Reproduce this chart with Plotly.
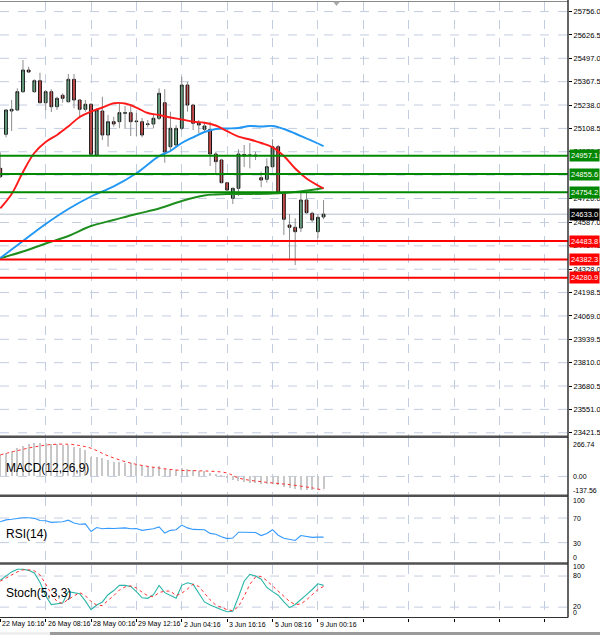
import plotly.graph_objects as go

# ---------------- data ----------------
open_ = [24887.3, 25075.8, 25204.9, 25210.5, 25311.9, 25432.2, 25311.9, 25372.9, 25250.9, 25311.9,
         25228.8, 25292.0, 25256.5, 25380.6, 25265.9, 25214.3, 25242.1, 24961.0, 25204.9, 25071.9,
         25145.6, 25145.6, 25192.2, 25195.5, 25145.6, 25145.6, 25130.1, 25132.9, 25164.5, 25250.9,
         25007.0, 25016.5, 25109.0, 25349.0, 25238.2, 25136.7, 25103.5, 25103.5, 24966.6, 24933.3,
         24807.5, 24721.0, 24776.5, 24955.5, 24958.3, 24961.0, 24835.2, 24826.3, 24896.2, 25007.0,
         24752.1, 24573.0, 24560.3, 24556.4, 24711.6, 24637.9, 24535.9, 24617.4]
high = [24975.0, 25215.0, 25265.9, 25330.8, 25487.6, 25450.5, 25380.6, 25417.2, 25321.3, 25325.2,
        25284.2, 25303.0, 25410.0, 25410.0, 25268.0, 25265.9, 25249.3, 25219.9, 25284.2, 25182.8,
        25173.3, 25249.3, 25232.6, 25232.6, 25193.8, 25166.1, 25155.0, 25182.8, 25330.8, 25325.2,
        25201.0, 25127.3, 25395.0, 25367.3, 25245.0, 25155.0, 25145.6, 25145.6, 24979.4, 24940.0,
        24812.0, 24780.0, 24992.6, 25016.5, 25027.6, 24979.4, 24868.5, 24942.7, 25048.0, 25016.5,
        24757.6, 24634.0, 24610.2, 24757.6, 24757.6, 24646.7, 24634.0, 24711.6]
low = [24833.5, 25059.1, 25094.1, 25205.0, 25305.0, 25417.2, 25306.4, 25247.6, 25210.5, 25199.4,
       25210.5, 25250.9, 25250.9, 25219.9, 25164.5, 25201.0, 24961.0, 24951.6, 25044.2, 25007.0,
       25118.0, 25109.0, 25105.2, 25066.4, 25066.4, 25059.1, 25114.6, 25109.0, 25155.0, 24918.4,
       24988.8, 25007.0, 25099.6, 25201.0, 25099.6, 25081.0, 25084.6, 24900.1, 24859.6, 24804.2,
       24761.5, 24689.4, 24733.8, 24894.5, 24887.3, 24933.3, 24782.0, 24807.5, 24892.8, 24744.9,
       24517.6, 24379.0, 24351.3, 24534.2, 24634.0, 24589.7, 24499.3, 24604.6]
close = [24840.8, 25210.5, 25214.3, 25311.9, 25432.2, 25421.1, 25372.9, 25250.9, 25311.9, 25228.8,
         25275.3, 25275.3, 25380.6, 25265.9, 25214.3, 25242.1, 24965.0, 25210.5, 25071.9, 25145.6,
         25132.9, 25195.5, 25195.5, 25145.6, 25148.4, 25071.9, 25132.9, 25164.5, 25303.0, 24977.7,
         25109.0, 25109.0, 25349.0, 25238.2, 25136.7, 25127.3, 25121.8, 24966.6, 24924.0, 24807.5,
         24767.1, 24776.5, 24966.6, 24963.8, 24961.0, 24956.5, 24822.5, 24896.2, 25007.0, 24752.1,
         24604.6, 24560.3, 24535.9, 24711.6, 24641.2, 24600.7, 24615.7, 24633.0]

red_ma_idx = [0, 2, 4, 6, 8, 10, 12, 14, 16, 18, 20, 22, 24, 26, 28, 30, 32, 34, 36, 38, 40, 42, 44,
              46, 48, 50, 52, 54, 56, 57]
red_ma = [24665.6, 24744.9, 24866.8, 24972.0, 25033.1, 25072.0, 25119.6, 25171.7, 25202.1, 25224.3,
          25247.6, 25246.5, 25224.3, 25193.8, 25182.8, 25168.9, 25157.8, 25145.6, 25140.1, 25124.5,
          25093.0, 25062.5, 25046.9, 25027.6, 25003.7, 24955.5, 24886.0, 24830.8, 24792.0, 24775.4]
blue_ma_idx = [0, 4, 8, 12, 16, 20, 24, 28, 30, 32, 34, 36, 38, 40, 42, 44, 46, 48, 50, 52, 54, 56, 57]
blue_ma = [24390.0, 24484.3, 24578.6, 24661.7, 24731.0, 24787.0, 24860.0, 24955.0, 24983.2, 25027.6,
           25059.2, 25088.5, 25105.2, 25108.0, 25110.7, 25121.8, 25119.0, 25121.8, 25105.2, 25080.2,
           25052.5, 25024.8, 25010.9]
green_ma_idx = [0, 4, 8, 12, 16, 20, 24, 28, 32, 36, 38, 40, 44, 48, 52, 56, 57]
green_ma = [24388.4, 24426.1, 24470.5, 24512.0, 24567.5, 24600.7, 24634.0, 24664.5, 24706.0, 24736.5,
            24742.1, 24744.9, 24744.9, 24747.6, 24756.0, 24772.6, 24778.1]

green_levels = [24957.1, 24855.6, 24754.2]
red_levels = [24483.8, 24382.3, 24280.9]
last_price = 24633.0

price_ticks = [25756.0, 25626.5, 25497.0, 25367.5, 25238.0, 25108.5, 24979.0, 24720.0,
               24587.0, 24457.5, 24328.0, 24198.5, 24069.0, 23939.5, 23810.0, 23680.5, 23551.0, 23421.5]
grid_prices = [25756.0, 25626.5, 25497.0, 25367.5, 25238.0, 25108.5, 24979.0, 24849.5, 24720.0,
               24587.0, 24457.5, 24328.0, 24198.5, 24069.0, 23939.5, 23810.0, 23680.5, 23551.0, 23421.5]

macd_hist = [171.4, 184.9, 205.4, 224.4, 242.5, 258.3, 263.9, 266.7, 263.9, 258.3,
             256.0, 250.4, 248.0, 237.0, 224.4, 211.0, 158.0, 158.0, 145.4, 132.0,
             118.5, 118.5, 110.6, 105.9, 92.4, 79.0, 74.3, 74.3, 79.0, 58.5,
             52.9, 47.4, 66.4, 58.5, 47.4, 39.5, 39.5, 26.9, 19.0, 5.5,
             -5.0, -25.0, -38.0, -45.0, -50.0, -52.0, -57.0, -62.0, -62.0, -72.0,
             -84.0, -92.0, -100.0, -105.0, -106.0, -110.0, -108.0, -104.0]
macd_sig_idx = [0, 3, 6, 9, 12, 14, 16, 19, 23, 28, 32, 35, 40, 42, 47, 51, 55, 57]
macd_sig = [171.4, 205.0, 235.0, 253.5, 256.0, 245.6, 224.4, 163.8, 105.9, 66.4, 47.4, 45.0, 26.9,
            -13.0, -47.4, -65.6, -91.6, -110.6]

rsi = [64, 67, 68, 69.5, 70.5, 70.5, 69.5, 66, 65.5, 63,
       63.5, 64, 66.5, 62, 60, 60.5, 48, 54.5, 52.5, 53.5,
       53, 54, 54, 52.5, 53, 50, 51, 52.5, 55.5, 45.5,
       50, 51, 58.5, 54, 51.5, 51, 51, 45, 43.5, 39.5,
       36.5, 37.5, 47, 47, 47, 46.5, 41.5, 45, 51, 42,
       37, 35.5, 33.5, 41.5, 39.5, 38.5, 39, 39]
stoch_main = [72, 80, 88, 93, 93, 91, 86, 68, 42, 25,
              26, 28, 50, 48, 46, 32, 15, 24, 30, 44,
              52, 62, 62, 60, 50, 38, 37, 44, 62, 48,
              42, 37, 62, 67, 64, 48, 30, 24, 19, 15,
              11, 12, 40, 70, 83, 80, 74, 58, 50, 43,
              30, 19, 25, 34, 44, 54, 65, 62]
stoch_sig = [70, 76, 83, 88, 92, 92, 90, 82, 65, 45,
             31, 27, 35, 42, 48, 42, 31, 24, 23, 33,
             42, 53, 59, 61, 57, 49, 42, 40, 48, 51,
             51, 42, 47, 55, 64, 60, 47, 34, 24, 19,
             15, 13, 21, 41, 64, 78, 79, 71, 61, 50,
             41, 31, 25, 26, 34, 44, 54, 60]

date_tick_idx = [0, 8, 16, 24, 32, 40, 48, 56]
date_labels = ["22 May 16:16", "26 May 08:16", "28 May 00:16", "29 May 12:16",
               "2 Jun 04:16", "3 Jun 16:16", "5 Jun 08:16", "9 Jun 00:16"]
grid_idx = [0, 8, 16, 24, 32, 40, 48, 56, 64, 72, 80, 88, 96]

macd_labels = ["266.74", "0.00", "-137.56"]
rsi_labels = ["100", "70", "30", "0"]
stoch_labels = ["100", "80", "20", "0"]

# ---------------- layout constants ----------------
W, H = 600, 635
PR = 568  # plot right edge (px)
XR = [-0.05, 100.1]
def py(p):
    return 1 - p / H

GRID = "#C3CDE0"
FONT = "Liberation Sans"
FS = 7
FSP = 7.5
fig = go.Figure()

idx = list(range(len(open_)))
wx, wy = [], []
for i, (h, l) in enumerate(zip(high, low)):
    wx += [i, i, None]
    wy += [l, h, None]
fig.add_trace(go.Scatter(x=wx, y=wy, mode="lines", line=dict(color="#8C8C8C", width=1),
                         hoverinfo="skip", showlegend=False, xaxis="x", yaxis="y"))
body_hi = [max(o, c) for o, c in zip(open_, close)]
body_lo = [min(o, c) for o, c in zip(open_, close)]
fig.add_trace(go.Candlestick(x=idx, open=open_, high=body_hi, low=body_lo, close=close,
                             increasing=dict(fillcolor="#3CB371", line=dict(color="#101010", width=1)),
                             decreasing=dict(fillcolor="#FF0000", line=dict(color="#101010", width=1)),
                             whiskerwidth=0, showlegend=False, xaxis="x", yaxis="y"))
for xs, ys, col in [(green_ma_idx, green_ma, "#1E8E1E"), (blue_ma_idx, blue_ma, "#2196F3"),
                    (red_ma_idx, red_ma, "#FF1A1A")]:
    fig.add_trace(go.Scatter(x=xs, y=ys, mode="lines", line=dict(color=col, width=1.9, shape="spline"),
                             showlegend=False, xaxis="x", yaxis="y"))

# MACD
fig.add_trace(go.Bar(x=idx, y=macd_hist, width=0.18, marker=dict(color="#C8C8C8", line=dict(width=0)),
                     showlegend=False, xaxis="x2", yaxis="y2"))
fig.add_trace(go.Scatter(x=macd_sig_idx, y=macd_sig, mode="lines",
                         line=dict(color="#FF3030", width=1, dash="dot", shape="spline"),
                         showlegend=False, xaxis="x2", yaxis="y2"))
# RSI
fig.add_trace(go.Scatter(x=idx, y=rsi, mode="lines", line=dict(color="#3399FF", width=1.1),
                         showlegend=False, xaxis="x3", yaxis="y3"))
# Stoch
fig.add_trace(go.Scatter(x=idx, y=stoch_main, mode="lines", line=dict(color="#2BB5A8", width=1.1),
                         showlegend=False, xaxis="x4", yaxis="y4"))
fig.add_trace(go.Scatter(x=idx, y=stoch_sig, mode="lines", line=dict(color="#FF3030", width=1, dash="dot"),
                         showlegend=False, xaxis="x4", yaxis="y4"))

xdom = [0, PR / W]
xcommon = dict(domain=xdom, range=XR, showgrid=True, gridcolor=GRID, griddash="dash", gridwidth=1,
               tickmode="array", tickvals=grid_idx, showticklabels=False, zeroline=False,
               fixedrange=True)
tickfont = dict(family=FONT, size=FSP, color="#000")

shapes = []
def hline(ypx, color, width):
    shapes.append(dict(type="line", xref="paper", yref="paper", x0=0, x1=PR / W, y0=py(ypx), y1=py(ypx),
                       line=dict(color=color, width=width)))

# main price grid
for gp in grid_prices:
    shapes.append(dict(type="line", xref="paper", yref="y", x0=0, x1=PR / W, y0=gp, y1=gp,
                       line=dict(color=GRID, width=1, dash="dash"), layer="below"))
for lv in green_levels:
    shapes.append(dict(type="line", xref="paper", yref="y", x0=0, x1=PR / W, y0=lv, y1=lv,
                       line=dict(color="#008800", width=2)))
for lv in red_levels:
    shapes.append(dict(type="line", xref="paper", yref="y", x0=0, x1=PR / W, y0=lv, y1=lv,
                       line=dict(color="#FF0000", width=2)))
shapes.append(dict(type="line", xref="paper", yref="y", x0=0, x1=PR / W, y0=last_price, y1=last_price,
                   line=dict(color="#B4BED2", width=1), layer="below"))
# indicator level grid
for yref, v in [("y2", 0), ("y3", 70), ("y3", 30), ("y4", 80), ("y4", 20)]:
    shapes.append(dict(type="line", xref="paper", yref=yref, x0=0, x1=PR / W, y0=v, y1=v,
                       line=dict(color=GRID, width=1, dash="dash"), layer="below"))
# frame lines
hline(1.5, "#8A8A8A", 1)
hline(436.8, "#505050", 2.5)
hline(495.8, "#505050", 2.5)
hline(563.6, "#505050", 2.5)
hline(617.5, "#303030", 1)
shapes.append(dict(type="line", xref="paper", yref="paper", x0=PR / W, x1=PR / W, y0=py(617.5), y1=py(0),
                   line=dict(color="#303030", width=1.5)))
# small shift marker at top
shapes.append(dict(type="path", xref="paper", yref="paper",
                   path=f"M {333/W},{py(1.5)} L {340/W},{py(1.5)} L {336.5/W},{py(6)} Z",
                   fillcolor="#A8A8A8", line=dict(width=0)))
# bottom strip
shapes.append(dict(type="rect", xref="paper", yref="paper", x0=0, x1=1, y0=0, y1=py(632),
                   line=dict(width=0), fillcolor="#9A9A9A"))
shapes.append(dict(type="rect", xref="paper", yref="paper", x0=0, x1=50 / W, y0=0, y1=py(632),
                   line=dict(width=0), fillcolor="#F0F0F0"))

annotations = []
def lvl_label(v, bg):
    annotations.append(dict(xref="paper", yref="y", x=(PR + 1) / W, y=v, xanchor="left", yanchor="middle",
                            text=f"{v:.1f}", showarrow=False, bgcolor=bg, borderpad=1,
                            font=dict(family=FONT, size=FSP, color="#FFFFFF")))
for lv in green_levels:
    lvl_label(lv, "#008800")
for lv in red_levels:
    lvl_label(lv, "#FF0000")
lvl_label(last_price, "#000000")

def side_label(txt, ypx):
    annotations.append(dict(xref="paper", yref="paper", x=(PR + 3) / W, y=py(ypx), xanchor="left",
                            yanchor="middle", text=txt, showarrow=False,
                            font=dict(family=FONT, size=FS, color="#000")))
for t, yp in zip(macd_labels, [444.5, 476.5, 490.5]):
    side_label(t, yp)
for t, yp in zip(rsi_labels, [500.5, 518.3, 543.3, 557.5]):
    side_label(t, yp)
for t, yp in zip(stoch_labels, [566.3, 575.3, 606.8, 612.8]):
    side_label(t, yp)

for t, yp in [("MACD(12,26,9)", 468), ("RSI(14)", 534), ("Stoch(5,3,3)", 593)]:
    annotations.append(dict(xref="paper", yref="paper", x=4 / W, y=py(yp), xanchor="left", yanchor="middle",
                            text=t, showarrow=False, font=dict(family=FONT, size=12, color="#000")))
for i, t in zip(date_tick_idx, date_labels):
    annotations.append(dict(xref="x4", yref="paper", x=i, y=py(624), xanchor="left", yanchor="middle",
                            text=t, showarrow=False, xshift=0,
                            font=dict(family=FONT, size=FS, color="#000")))

fig.update_layout(
    width=W, height=H, margin=dict(l=0, r=0, t=0, b=0), paper_bgcolor="#FFFFFF", plot_bgcolor="#FFFFFF",
    showlegend=False, bargap=0,
    xaxis=dict(**xcommon, anchor="y", rangeslider=dict(visible=False)),
    xaxis2=dict(**xcommon, anchor="y2", matches="x"),
    xaxis3=dict(**xcommon, anchor="y3", matches="x"),
    xaxis4=dict(**xcommon, anchor="y4", matches="x", ticks="outside", ticklen=3, tickcolor="#000"),
    yaxis=dict(domain=[py(436), py(2)], range=[23403.5, 25809.1], side="right", anchor="x",
               tickmode="array", tickvals=price_ticks, ticktext=[f"{v:.1f}" for v in price_ticks],
               showgrid=False, ticks="outside", ticklen=3,
               tickcolor="#000", tickfont=tickfont, zeroline=False, fixedrange=True),
    yaxis2=dict(domain=[py(494), py(438)], range=[-140, 305.7], side="right", anchor="x2",
                showgrid=False, showticklabels=False, zeroline=False, fixedrange=True),
    yaxis3=dict(domain=[py(562.5), py(497)], range=[-2.3, 104.2], side="right", anchor="x3",
                showgrid=False, showticklabels=False, zeroline=False, fixedrange=True),
    yaxis4=dict(domain=[py(617.5), py(565)], range=[0, 101.3], side="right", anchor="x4",
                showgrid=False, showticklabels=False, zeroline=False, fixedrange=True),
    shapes=shapes, annotations=annotations,
)
fig.write_html("out.html")
